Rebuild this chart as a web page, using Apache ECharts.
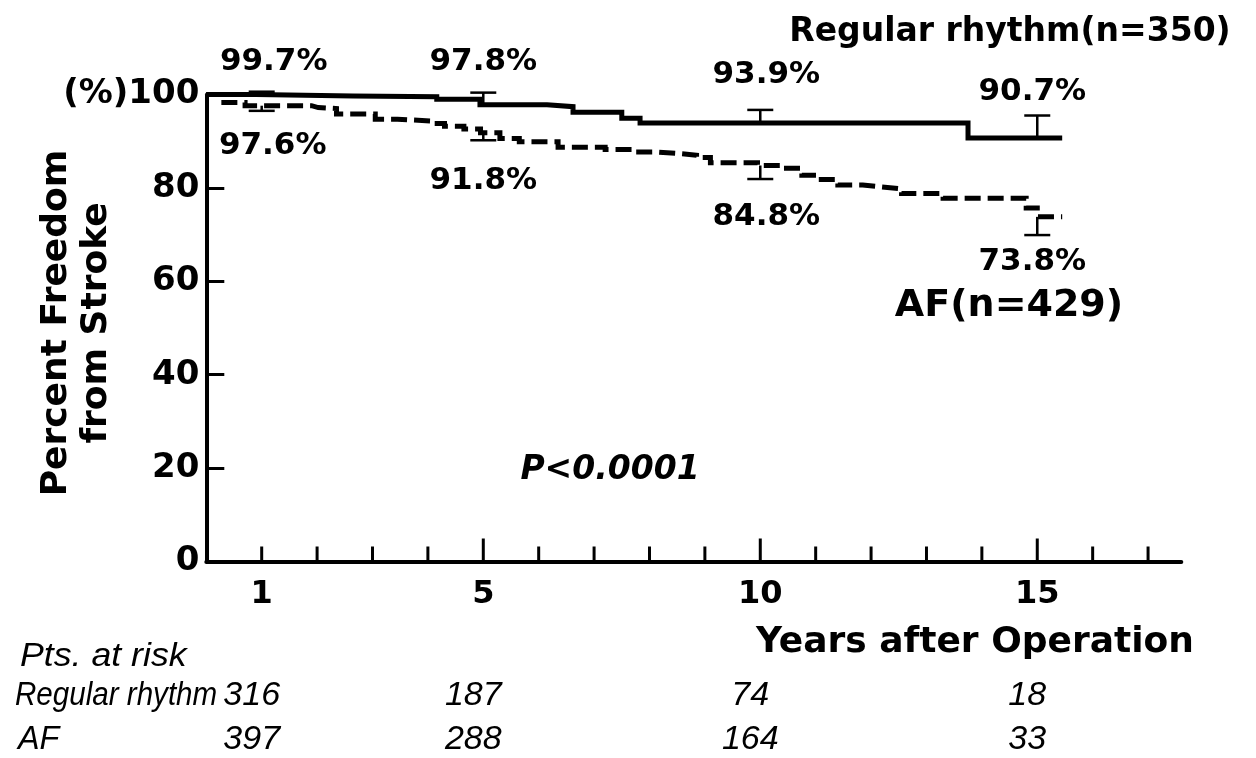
<!DOCTYPE html>
<html>
<head>
<meta charset="utf-8">
<script src="https://cdn.jsdelivr.net/npm/echarts@6/dist/echarts.min.js"></script>
<style>
  html, body { margin: 0; padding: 0; background: #fff; }
  #chart { width: 1256px; height: 758px; }
</style>
</head>
<body>
<div id="chart"></div>
<script>
// Kaplan–Meier step points: [years after operation, % freedom from stroke]
const regularSteps = [
  [0, 100], [0.9, 99.7], [2.65, 99.5], [4.16, 99.0], [4.94, 97.8],
  [6.15, 97.4], [6.62, 96.2], [7.5, 94.9], [7.83, 93.9],
  [13.75, 90.7], [15.45, 90.7]
];
const afSteps = [
  [0, 100], [0.25, 98.3], [0.7, 97.6], [1.9, 97.2], [2.02, 97.0],
  [2.35, 95.8], [3.05, 94.7], [3.45, 94.3], [4.1, 93.8], [4.3, 93.2],
  [4.65, 92.6], [4.95, 91.8], [5.3, 90.6], [5.65, 89.9], [6.35, 88.7],
  [7.2, 88.2], [7.7, 87.7], [8.1, 87.4], [8.5, 87.0], [8.85, 86.5],
  [9.1, 85.4], [9.95, 84.8], [10.4, 84.2], [10.75, 82.7], [11.05, 81.8],
  [11.4, 80.6], [11.85, 80.2], [12.2, 79.8], [12.55, 78.8], [13.3, 77.8],
  [14.8, 75.7], [15.0, 73.8], [15.45, 73.8]
];

// Point estimates and confidence limits at the marked years
const markYears = [1, 5, 10, 15];
const regularRates = [99.7, 97.8, 93.9, 90.7];
const regularUpper = [100.6, 100.4, 96.7, 95.5];
const afRates = [97.6, 91.8, 84.8, 73.8];
const afLower = [96.5, 90.2, 81.9, 69.9];

// Patients at risk
const riskRowNames = ['Regular rhythm', 'AF'];
const riskRegular = [316, 187, 74, 18];
const riskAF = [397, 288, 164, 33];

// Axis ticks
const xTickYears = [1, 2, 3, 4, 5, 6, 7, 8, 9, 10, 11, 12, 13, 14, 15, 16, 17];
const xMajorYears = [5, 10, 15];
const xLabelYears = [1, 5, 10, 15];

// Label placement around each estimate (pixels)
const regularLabelOffsets = [[12, -34], [0, -43], [6, -48], [-5, -46]];
const afLabelOffsets = [[11, 40], [0, 48], [6, 51], [-5, 45]];

const INK = '#000';
const WIDE = '"DejaVu Sans", Verdana, sans-serif';
const PLAIN = '"Liberation Sans", Arial, Helvetica, sans-serif';

const chart = echarts.init(document.getElementById('chart'), null, { renderer: 'canvas' });

function errorBarItem(params, api) {
  const x = api.value(0), v = api.value(1), b = api.value(2);
  const p0 = api.coord([x, v]);
  const p1 = api.coord([x, b]);
  const st = { stroke: INK, lineWidth: 2.5 };
  return {
    type: 'group',
    children: [
      { type: 'line', shape: { x1: p0[0], y1: p0[1], x2: p1[0], y2: p1[1] }, style: st },
      { type: 'line', shape: { x1: p1[0] - 13, y1: p1[1], x2: p1[0] + 13, y2: p1[1] }, style: st }
    ]
  };
}

// Percentage text placed beside the estimate it states
function rateLabelSeries(rates, offsets) {
  return {
    type: 'custom',
    silent: true,
    clip: false,
    data: markYears.map((yr, i) => [yr, rates[i]]),
    renderItem: (params, api) => {
      const v = api.value(1);
      const p = api.coord([api.value(0), v]);
      const off = offsets[params.dataIndex];
      return {
        type: 'text',
        x: p[0] + off[0],
        y: p[1] + off[1],
        style: {
          text: v.toFixed(1) + '%',
          fill: INK,
          align: 'center',
          verticalAlign: 'middle',
          fontFamily: WIDE,
          fontWeight: 'bold',
          fontSize: 31
        }
      };
    },
    z: 6
  };
}

chart.setOption({
  animation: false,
  backgroundColor: '#fff',
  grid: { left: 206.3, right: 74.7, top: 94.5, bottom: 196.5 },
  xAxis: {
    type: 'value',
    min: 0,
    max: 17.6,
    interval: 1,
    splitLine: { show: false },
    axisLine: { show: true, lineStyle: { color: INK, width: 4 } },
    axisTick: { show: false },
    axisLabel: {
      customValues: xLabelYears,
      margin: 17,
      color: INK,
      fontFamily: WIDE,
      fontWeight: 'bold',
      fontSize: 32
    }
  },
  yAxis: {
    type: 'value',
    min: 0,
    max: 100,
    interval: 20,
    splitLine: { show: false },
    axisLine: { show: true, lineStyle: { color: INK, width: 4 } },
    axisTick: { show: true, inside: true, length: 18, lineStyle: { color: INK, width: 3 } },
    axisLabel: {
      margin: 7,
      color: INK,
      fontFamily: WIDE,
      fontWeight: 'bold',
      fontSize: 34,
      formatter: v => (v === 100 ? '(%)100' : String(v))
    }
  },
  series: [
    {
      // tick marks along the time axis, longer at 5-year marks
      type: 'custom',
      silent: true,
      clip: false,
      data: xTickYears.map(v => [v, 0]),
      renderItem: (params, api) => {
        const v = api.value(0);
        const p = api.coord([v, 0]);
        const len = xMajorYears.includes(v) ? 23 : 15;
        return {
          type: 'line',
          shape: { x1: p[0], y1: p[1], x2: p[0], y2: p[1] - len },
          style: { stroke: INK, lineWidth: 3 }
        };
      },
      z: 3
    },
    {
      name: 'Regular rhythm',
      type: 'line',
      step: 'end',
      data: regularSteps,
      symbol: 'none',
      silent: true,
      lineStyle: { color: INK, width: 5, cap: 'butt', join: 'miter' },
      z: 4
    },
    {
      name: 'AF',
      type: 'line',
      step: 'end',
      data: afSteps,
      symbol: 'none',
      silent: true,
      lineStyle: { color: INK, width: 5, type: [16, 7], cap: 'butt', join: 'miter' },
      z: 4
    },
    {
      type: 'custom',
      silent: true,
      clip: false,
      encode: { x: 0, y: [1, 2] },
      data: markYears.map((yr, i) => [yr, regularRates[i], regularUpper[i]]),
      renderItem: errorBarItem,
      z: 5
    },
    {
      type: 'custom',
      silent: true,
      clip: false,
      encode: { x: 0, y: [1, 2] },
      data: markYears.map((yr, i) => [yr, afRates[i], afLower[i]]),
      renderItem: errorBarItem,
      z: 5
    },
    rateLabelSeries(regularRates, regularLabelOffsets),
    rateLabelSeries(afRates, afLabelOffsets)
  ]
});

// Titles, annotations and the at-risk table
const px = yr => chart.convertToPixel({ xAxisIndex: 0 }, yr);

const boldText = (text, x, y, size, extra) => ({
  type: 'text',
  x, y,
  silent: true,
  style: Object.assign({
    text,
    fill: INK,
    align: 'center',
    verticalAlign: 'middle',
    fontFamily: WIDE,
    fontWeight: 'bold',
    fontSize: size
  }, extra || {})
});

const tableText = (text, x, y, align, scaleX) => ({
  type: 'text',
  x, y,
  scaleX: scaleX || 1,
  silent: true,
  style: {
    text,
    fill: INK,
    align: align || 'center',
    verticalAlign: 'middle',
    fontFamily: PLAIN,
    fontStyle: 'italic',
    fontSize: 34
  }
});

const graphics = [
  boldText('Regular rhythm(n=350)', 1010, 32, 33),
  boldText('AF(n=429)', 1009, 306, 38),
  boldText('P<0.0001', 610, 470, 33, { fontStyle: 'italic' }),
  boldText('Years after Operation', 975, 643, 36),
  {
    type: 'text',
    x: 77,
    y: 323,
    rotation: Math.PI / 2,
    silent: true,
    style: {
      text: 'Percent Freedom\nfrom Stroke',
      fill: INK,
      align: 'center',
      verticalAlign: 'middle',
      fontFamily: WIDE,
      fontWeight: 'bold',
      fontSize: 36,
      lineHeight: 40
    }
  },
  tableText('Pts. at risk', 20, 657, 'left', 1.05),
  tableText(riskRowNames[0], 15, 696, 'left', 0.87),
  tableText(riskRowNames[1], 18, 740, 'left', 0.95)
];
markYears.forEach((yr, i) => {
  const x = px(yr) - 10;
  graphics.push(tableText(String(riskRegular[i]), x, 696));
  graphics.push(tableText(String(riskAF[i]), x, 740));
});

chart.setOption({ graphic: graphics });
</script>
</body>
</html>
